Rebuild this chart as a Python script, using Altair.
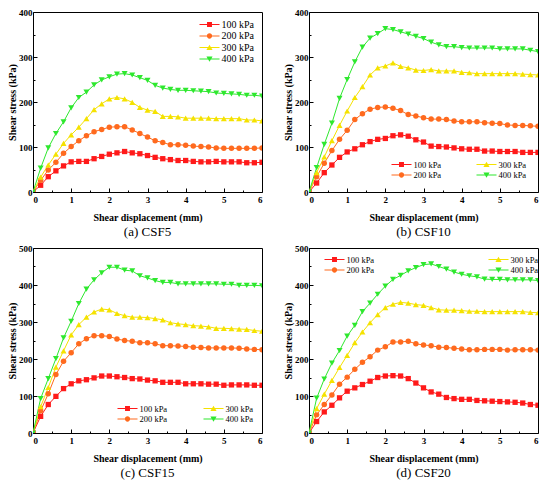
import altair as alt
import pandas as pd

X = [0.0, 0.2, 0.4, 0.6, 0.8, 1.0, 1.2, 1.4, 1.6, 1.8, 2.0, 2.2, 2.4, 2.6, 2.8, 3.0,
     3.2, 3.4, 3.6, 3.8, 4.0, 4.2, 4.4, 4.6, 4.8, 5.0, 5.2, 5.4, 5.6, 5.8, 6.0]

SERIES = ["100 kPa", "200 kPa", "300 kPa", "400 kPa"]
COLORS = ["#ff1a1a", "#ff6a1e", "#f5e200", "#2ee82e"]
SHAPES = ["square", "circle", "triangle-up", "triangle-down"]
LEG_PATHS = [
    "M-1.82,-0.09H1.82V0.09H-1.82Z M-0.45,-0.45H0.45V0.45H-0.45Z",
    "M-1.82,-0.09H1.82V0.09H-1.82Z M-0.48,0A0.48,0.48 0 1,1 0.48,0A0.48,0.48 0 1,1 -0.48,0Z",
    "M-1.82,-0.09H1.82V0.09H-1.82Z M0,-0.52L0.56,0.44L-0.56,0.44Z",
    "M-1.82,-0.09H1.82V0.09H-1.82Z M0,0.52L-0.56,-0.44L0.56,-0.44Z",
]

# (a) CSF5
A100 = [0, 15, 34, 47, 58, 67, 68, 68, 74, 79, 84, 87, 90, 87, 85, 81, 77, 74, 72, 70, 70, 68, 67, 67, 68, 67, 67, 67, 65, 65, 66]
A200 = [0, 26, 49, 66, 86, 101, 114, 125, 134, 139, 144, 145, 145, 138, 130, 122, 114, 110, 105, 105, 104, 102, 101, 100, 98, 97, 97, 97, 97, 97, 98]
A300 = [0, 33, 60, 84, 108, 127, 144, 163, 183, 196, 207, 210, 207, 199, 188, 182, 179, 168, 168, 167, 164, 164, 164, 164, 163, 163, 163, 163, 160, 160, 158]
A400 = [0, 53, 98, 130, 156, 187, 210, 222, 238, 249, 256, 262, 263, 260, 254, 248, 237, 231, 228, 226, 226, 225, 224, 223, 220, 219, 218, 217, 215, 215, 213]
# (b) CSF10
B100 = [0, 20, 43, 60, 77, 89, 96, 105, 112, 117, 119, 125, 127, 124, 116, 111, 102, 101, 100, 98, 96, 95, 95, 91, 91, 90, 90, 90, 88, 88, 88]
B200 = [0, 34, 64, 92, 117, 137, 161, 174, 184, 188, 189, 186, 181, 172, 169, 165, 162, 162, 161, 158, 156, 156, 156, 154, 153, 152, 149, 148, 148, 147, 146]
B300 = [0, 43, 78, 114, 148, 180, 210, 234, 260, 276, 280, 287, 279, 276, 271, 270, 272, 269, 269, 269, 266, 265, 263, 263, 263, 263, 263, 263, 262, 261, 260]
B400 = [0, 54, 106, 153, 208, 250, 289, 322, 342, 352, 363, 361, 356, 351, 346, 341, 333, 327, 323, 323, 321, 320, 320, 320, 320, 318, 318, 318, 318, 315, 312]
# (c) CSF15
C100 = [0, 45, 77, 99, 120, 133, 141, 144, 149, 154, 154, 152, 150, 147, 146, 143, 141, 137, 137, 137, 133, 133, 133, 132, 132, 129, 130, 130, 130, 129, 129]
C200 = [0, 60, 106, 158, 194, 217, 241, 255, 263, 263, 261, 254, 250, 248, 244, 244, 241, 236, 236, 235, 234, 232, 231, 230, 230, 230, 230, 229, 227, 226, 225]
C300 = [0, 71, 123, 178, 222, 265, 293, 313, 327, 335, 333, 323, 317, 313, 313, 312, 309, 306, 298, 295, 293, 290, 289, 287, 283, 283, 282, 281, 280, 277, 275]
C400 = [0, 93, 147, 201, 257, 302, 350, 389, 414, 433, 448, 448, 440, 438, 425, 419, 412, 407, 407, 403, 403, 403, 403, 403, 403, 402, 402, 399, 399, 399, 398]
# (d) CSF20
D100 = [0, 31, 57, 75, 95, 113, 122, 131, 140, 150, 154, 155, 154, 147, 135, 122, 111, 105, 96, 93, 91, 91, 88, 87, 86, 85, 84, 83, 81, 77, 75]
D200 = [0, 49, 77, 103, 132, 151, 172, 191, 206, 224, 233, 246, 246, 248, 241, 238, 236, 232, 231, 229, 227, 225, 225, 226, 226, 226, 224, 225, 225, 225, 224]
D300 = [0, 66, 105, 142, 177, 210, 244, 273, 298, 320, 339, 348, 353, 351, 347, 345, 339, 333, 332, 332, 331, 329, 329, 328, 328, 328, 328, 328, 328, 326, 325]
D400 = [0, 94, 146, 189, 223, 262, 291, 328, 351, 375, 397, 415, 426, 438, 447, 455, 457, 450, 443, 435, 429, 425, 422, 416, 415, 415, 414, 414, 414, 414, 412]

X_MAJOR = [0, 1, 2, 3, 4, 5, 6]
X_MINOR = [0.5, 1.5, 2.5, 3.5, 4.5, 5.5]

FONT = "Liberation Serif"
W = 229


def panel(values, ymax, caption, cols, lx, ly, colpad, lfs, h):
    rows = []
    for s, vals in zip(SERIES, values):
        for x, v in zip(X, vals):
            rows.append({"x": x, "y": v, "s": s})
    df = pd.DataFrame(rows)
    base = alt.Chart(df)
    xs = alt.Scale(domain=[0, 6], nice=False, zero=False)
    ys = alt.Scale(domain=[0, ymax], nice=False)
    ymajor = list(range(0, ymax + 1, 100))
    yminor = list(range(50, ymax, 100))

    axA_x = alt.Axis(orient="bottom", values=X_MAJOR, ticks=False, tickSize=0, domain=False,
                     grid=False, labelPadding=3, labelFont=FONT, labelFontSize=9,
                     labelFontWeight="bold", labelColor="black",
                     title="Shear displacement (mm)", titleFont=FONT, titleFontSize=10,
                     titleFontWeight="bold", titleColor="black", titlePadding=8)
    axA_y = alt.Axis(orient="left", values=ymajor, ticks=False, tickSize=0, domain=False,
                     grid=False, labelPadding=1, labelFont=FONT, labelFontSize=9,
                     labelFontWeight="bold", labelColor="black",
                     title="Shear stress (kPa)", titleFont=FONT, titleFontSize=10,
                     titleFontWeight="bold", titleColor="black", titlePadding=1)
    axB_x = alt.Axis(orient="top", offset=-h, values=X_MAJOR, labels=False, domain=False,
                     grid=False, tickSize=4, tickColor="black", tickWidth=1, title=None)
    axB_y = alt.Axis(orient="right", offset=-W, values=ymajor, labels=False, domain=False,
                     grid=False, tickSize=4, tickColor="black", tickWidth=1, title=None)
    axC_x = alt.Axis(orient="top", offset=-h, values=X_MINOR, labels=False, domain=False,
                     grid=False, tickSize=2, tickColor="black", tickWidth=1, title=None)
    axC_y = alt.Axis(orient="right", offset=-W, values=yminor, labels=False, domain=False,
                     grid=False, tickSize=2, tickColor="black", tickWidth=1, title=None)

    line = base.mark_line(strokeWidth=1, clip=True).encode(
        x=alt.X("x:Q", scale=xs, axis=axA_x),
        y=alt.Y("y:Q", scale=ys, axis=axA_y),
        color=alt.Color("s:N", scale=alt.Scale(domain=SERIES, range=COLORS), legend=None),
    )
    layers = [line]
    sizes = [28, 30, 36, 36]
    for i, s in enumerate(SERIES):
        if i == 0:
            xa, ya = axB_x, axB_y
        elif i == 1:
            xa, ya = axC_x, axC_y
        else:
            xa, ya = None, None
        p = base.transform_filter(alt.datum.s == s).mark_point(
            filled=True, shape=SHAPES[i], size=sizes[i], color=COLORS[i], opacity=1,
            strokeWidth=0, clip=True
        ).encode(
            x=alt.X("x:Q", scale=xs, axis=xa),
            y=alt.Y("y:Q", scale=ys, axis=ya),
        )
        layers.append(p)

    leg_kwargs = dict(title=None, orient="none", legendX=lx, legendY=ly, columns=cols,
                      columnPadding=colpad, rowPadding=0.5, symbolSize=121,
                      symbolStrokeWidth=0, labelFont=FONT, labelFontSize=lfs,
                      labelColor="black", labelOffset=6.5, padding=0)
    leg = base.transform_filter("false").mark_point(filled=True, opacity=1, strokeWidth=0).encode(
        x=alt.X("x:Q", scale=xs, axis=None),
        y=alt.Y("y:Q", scale=ys, axis=None),
        fill=alt.Fill("s:N", scale=alt.Scale(domain=SERIES, range=COLORS),
                      legend=alt.Legend(**leg_kwargs)),
        shape=alt.Shape("s:N", scale=alt.Scale(domain=SERIES, range=LEG_PATHS),
                        legend=alt.Legend(**leg_kwargs)),
    )
    layers.append(leg)

    return alt.layer(*layers).resolve_axis(x="independent", y="independent").properties(
        width=W, height=h,
        title=alt.TitleParams(text=caption, orient="bottom", font=FONT, fontSize=13,
                              fontWeight="normal", color="black", offset=4, anchor="middle"),
    )


pa = panel([A100, A200, A300, A400], 400, "(a) CSF5", 1, 171, 7, 10, 10, 180)
pb = panel([B100, B200, B300, B400], 400, "(b) CSF10", 2, 87, 147, 34, 8.5, 180)
pc = panel([C100, C200, C300, C400], 500, "(c) CSF15", 2, 89, 155, 35, 8.5, 185)
pd_ = panel([D100, D200, D300, D400], 500, "(d) CSF20", 2, 20, 6, 113, 8.5, 185)

row1 = alt.hconcat(pa, pb, spacing=20).resolve_scale(fill="independent", shape="independent")
row2 = alt.hconcat(pc, pd_, spacing=20).resolve_scale(fill="independent", shape="independent")

chart = alt.vconcat(row1, row2, spacing=3).resolve_scale(
    fill="independent", shape="independent"
).properties(
    padding={"left": -1, "top": -1, "right": 0, "bottom": 0}, background="white"
).configure_view(stroke="black", strokeWidth=1)

chart.save("out.html", embed_options={"renderer": "svg", "actions": False})
